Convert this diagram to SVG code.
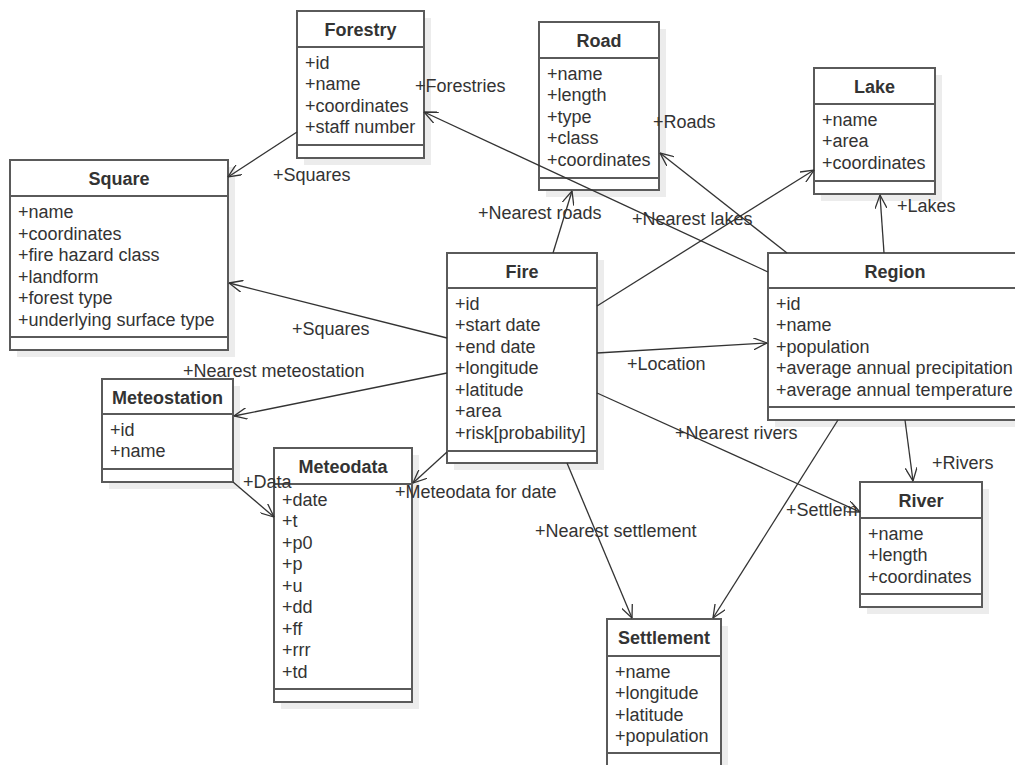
<svg xmlns="http://www.w3.org/2000/svg" width="1015" height="765" viewBox="0 0 1015 765">
  <style>
    text { font-family: "Liberation Sans", Arial, sans-serif; fill: #333; }
    .title { font-size: 18px; font-weight: bold; text-anchor: middle; }
    .attr { font-size: 18px; }
    .lbl { font-size: 18px; }
    .shadow { fill: #ececec; stroke: none; }
    .box { fill: #fff; stroke: #5a5a5a; stroke-width: 2; }
    .sep { stroke: #5a5a5a; stroke-width: 2; }
    .edge { stroke: #333; stroke-width: 1.3; fill: none; marker-end: url(#open); }
  </style>
  <defs>
    <marker id="open" markerUnits="userSpaceOnUse" viewBox="0 0 14 12" markerWidth="14" markerHeight="12" refX="13.5" refY="6" orient="auto">
      <path d="M0,0 L13.5,6 L0,12" fill="none" stroke="#333" stroke-width="1.3"/>
    </marker>
  </defs>
  <rect width="1015" height="765" fill="#fff"/>

  <!-- classes -->
  <g id="forestry">
    <rect class="shadow" x="304" y="18" width="127" height="147"/>
    <rect class="box" x="297" y="11" width="127" height="147"/>
    <line class="sep" x1="297" y1="47" x2="424" y2="47"/>
    <line class="sep" x1="297" y1="145" x2="424" y2="145"/>
    <text class="title" x="360.5" y="36">Forestry</text>
    <text class="attr" x="305" y="68.5">+id</text>
    <text class="attr" x="305" y="90">+name</text>
    <text class="attr" x="305" y="111.5">+coordinates</text>
    <text class="attr" x="305" y="133">+staff number</text>
  </g>

  <g id="road">
    <rect class="shadow" x="546" y="29" width="120" height="168"/>
    <rect class="box" x="539" y="22" width="120" height="168"/>
    <line class="sep" x1="539" y1="58" x2="659" y2="58"/>
    <line class="sep" x1="539" y1="178" x2="659" y2="178"/>
    <text class="title" x="599" y="47">Road</text>
    <text class="attr" x="547" y="79.5">+name</text>
    <text class="attr" x="547" y="101">+length</text>
    <text class="attr" x="547" y="122.5">+type</text>
    <text class="attr" x="547" y="144">+class</text>
    <text class="attr" x="547" y="165.5">+coordinates</text>
  </g>

  <g id="lake">
    <rect class="shadow" x="821" y="75" width="121" height="126"/>
    <rect class="box" x="814" y="68" width="121" height="126"/>
    <line class="sep" x1="814" y1="104" x2="935" y2="104"/>
    <line class="sep" x1="814" y1="181" x2="935" y2="181"/>
    <text class="title" x="874.5" y="93">Lake</text>
    <text class="attr" x="822" y="125.5">+name</text>
    <text class="attr" x="822" y="147">+area</text>
    <text class="attr" x="822" y="168.5">+coordinates</text>
  </g>

  <g id="square">
    <rect class="shadow" x="17" y="167" width="218" height="190"/>
    <rect class="box" x="10" y="160" width="218" height="190"/>
    <line class="sep" x1="10" y1="196" x2="228" y2="196"/>
    <line class="sep" x1="10" y1="337" x2="228" y2="337"/>
    <text class="title" x="119" y="185">Square</text>
    <text class="attr" x="18" y="218">+name</text>
    <text class="attr" x="18" y="239.5">+coordinates</text>
    <text class="attr" x="18" y="261">+fire hazard class</text>
    <text class="attr" x="18" y="282.5">+landform</text>
    <text class="attr" x="18" y="304">+forest type</text>
    <text class="attr" x="18" y="325.5">+underlying surface type</text>
  </g>

  <g id="fire">
    <rect class="shadow" x="454" y="260" width="150" height="210"/>
    <rect class="box" x="447" y="253" width="150" height="210"/>
    <line class="sep" x1="447" y1="288" x2="597" y2="288"/>
    <line class="sep" x1="447" y1="451" x2="597" y2="451"/>
    <text class="title" x="522" y="278">Fire</text>
    <text class="attr" x="455" y="309.5">+id</text>
    <text class="attr" x="455" y="331">+start date</text>
    <text class="attr" x="455" y="352.5">+end date</text>
    <text class="attr" x="455" y="374">+longitude</text>
    <text class="attr" x="455" y="395.5">+latitude</text>
    <text class="attr" x="455" y="417">+area</text>
    <text class="attr" x="455" y="438.5">+risk[probability]</text>
  </g>

  <g id="region">
    <rect class="shadow" x="775" y="260" width="254" height="167"/>
    <rect class="box" x="768" y="253" width="254" height="167"/>
    <line class="sep" x1="768" y1="288" x2="1022" y2="288"/>
    <line class="sep" x1="768" y1="407" x2="1022" y2="407"/>
    <text class="title" x="895" y="278">Region</text>
    <text class="attr" x="776" y="309.5">+id</text>
    <text class="attr" x="776" y="331">+name</text>
    <text class="attr" x="776" y="352.5">+population</text>
    <text class="attr" x="776" y="374">+average annual precipitation</text>
    <text class="attr" x="776" y="395.5">+average annual temperature</text>
  </g>

  <g id="meteostation">
    <rect class="shadow" x="109" y="386" width="131" height="103"/>
    <rect class="box" x="102" y="379" width="131" height="103"/>
    <line class="sep" x1="102" y1="414" x2="233" y2="414"/>
    <line class="sep" x1="102" y1="469" x2="233" y2="469"/>
    <text class="title" x="167.5" y="404">Meteostation</text>
    <text class="attr" x="110" y="435.5">+id</text>
    <text class="attr" x="110" y="457">+name</text>
  </g>

  <g id="meteodata">
    <rect class="shadow" x="281" y="455" width="138" height="254"/>
    <rect class="box" x="274" y="448" width="138" height="254"/>
    <line class="sep" x1="274" y1="484" x2="412" y2="484"/>
    <line class="sep" x1="274" y1="689" x2="412" y2="689"/>
    <text class="title" x="343" y="473">Meteodata</text>
    <text class="attr" x="282" y="505.5">+date</text>
    <text class="attr" x="282" y="527">+t</text>
    <text class="attr" x="282" y="548.5">+p0</text>
    <text class="attr" x="282" y="570">+p</text>
    <text class="attr" x="282" y="591.5">+u</text>
    <text class="attr" x="282" y="613">+dd</text>
    <text class="attr" x="282" y="634.5">+ff</text>
    <text class="attr" x="282" y="656">+rrr</text>
    <text class="attr" x="282" y="677.5">+td</text>
  </g>

  <g id="river">
    <rect class="shadow" x="867" y="489" width="122" height="125"/>
    <rect class="box" x="860" y="482" width="122" height="125"/>
    <line class="sep" x1="860" y1="518" x2="982" y2="518"/>
    <line class="sep" x1="860" y1="594" x2="982" y2="594"/>
    <text class="title" x="921" y="507">River</text>
    <text class="attr" x="868" y="539.5">+name</text>
    <text class="attr" x="868" y="561">+length</text>
    <text class="attr" x="868" y="582.5">+coordinates</text>
  </g>

  <g id="settlement">
    <rect class="shadow" x="614" y="626" width="114" height="150"/>
    <rect class="box" x="607" y="619" width="114" height="150"/>
    <line class="sep" x1="607" y1="656" x2="721" y2="656"/>
    <line class="sep" x1="607" y1="753" x2="721" y2="753"/>
    <text class="title" x="664" y="644">Settlement</text>
    <text class="attr" x="615" y="677.5">+name</text>
    <text class="attr" x="615" y="699">+longitude</text>
    <text class="attr" x="615" y="720.5">+latitude</text>
    <text class="attr" x="615" y="742">+population</text>
  </g>

  <!-- associations -->
  <g id="connectors">
    <line class="edge" x1="297" y1="132" x2="228" y2="177"/>
    <line class="edge" x1="768" y1="272" x2="424" y2="112"/>
    <line class="edge" x1="553" y1="253" x2="572" y2="191"/>
    <line class="edge" x1="787" y1="253" x2="660" y2="153"/>
    <line class="edge" x1="597" y1="306" x2="814" y2="170"/>
    <line class="edge" x1="884" y1="253" x2="880" y2="195"/>
    <line class="edge" x1="447" y1="338" x2="229" y2="283"/>
    <line class="edge" x1="447" y1="373" x2="234" y2="416"/>
    <line class="edge" x1="447" y1="452" x2="413" y2="483"/>
    <line class="edge" x1="233" y1="482" x2="274" y2="517"/>
    <line class="edge" x1="597" y1="353" x2="767" y2="343"/>
    <line class="edge" x1="597" y1="393" x2="860" y2="512"/>
    <line class="edge" x1="905" y1="420" x2="913" y2="481"/>
    <line class="edge" x1="567" y1="463" x2="632" y2="618"/>
    <line class="edge" x1="838" y1="420" x2="713" y2="618"/>

    <text class="lbl" x="273" y="181">+Squares</text>
    <text class="lbl" x="415" y="92">+Forestries</text>
    <text class="lbl" x="478" y="219">+Nearest roads</text>
    <text class="lbl" x="653" y="128">+Roads</text>
    <text class="lbl" x="632" y="225">+Nearest lakes</text>
    <text class="lbl" x="897" y="212">+Lakes</text>
    <text class="lbl" x="292" y="335">+Squares</text>
    <text class="lbl" x="183" y="377">+Nearest meteostation</text>
    <text class="lbl" x="395" y="498">+Meteodata for date</text>
    <text class="lbl" x="243" y="488">+Data</text>
    <text class="lbl" x="627" y="370">+Location</text>
    <text class="lbl" x="675" y="439">+Nearest rivers</text>
    <text class="lbl" x="932" y="469">+Rivers</text>
    <text class="lbl" x="535" y="537">+Nearest settlement</text>
    <text class="lbl" x="786" y="516">+Settlem</text>
  </g>
</svg>
